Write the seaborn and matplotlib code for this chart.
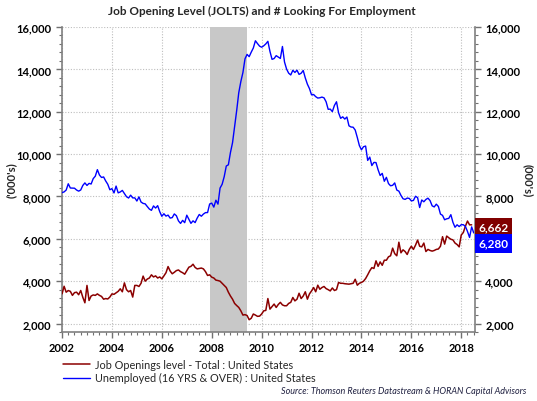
import numpy as np
import pandas as pd
import seaborn as sns
import matplotlib.pyplot as plt
from matplotlib.ticker import MultipleLocator, FuncFormatter
from matplotlib.transforms import blended_transform_factory

# monthly values, thousands, starting Jan 2002
start_year = 2002
job_openings = [
    3400, 3760, 3480, 3560, 3520, 3330, 3460, 3480, 3360, 3560, 3240, 2980,
    3800, 3090, 3300, 3350, 3330, 3400, 3330, 3280, 3150, 3180, 3160, 3250,
    3400, 3380, 3450, 3520, 3640, 3500, 3920, 3600, 3500, 3560, 3250, 3800,
    3800, 3750, 3900, 4240, 4000, 4100, 4150, 4300, 4200, 4250, 4150, 4200,
    4110, 4250, 4400, 4690, 4480, 4350, 4420, 4500, 4530, 4450, 4400, 4330,
    4500, 4660, 4700, 4800, 4650, 4580, 4600, 4620, 4580, 4450, 4270, 4300,
    4190, 4150, 4050, 4030, 4000, 3900, 3800, 3700, 3480, 3300, 3150, 2950,
    2850, 2760, 2600, 2400, 2420, 2380, 2180, 2250, 2450, 2400, 2340, 2350,
    2450, 2600, 2620, 3180, 2680, 2800, 2920, 2760, 2900, 3000, 2880, 2840,
    2840, 2950, 3000, 3230, 3070, 3150, 3430, 3180, 3300, 3500, 3150, 3400,
    3540, 3700, 3500, 3810, 3620, 3700, 3750, 3650, 3600, 3540, 3680, 3560,
    3600, 3940, 3900, 3900, 3880, 3870, 3860, 3880, 3900, 4090, 3810, 3900,
    3940, 4000, 4125, 4300, 4490, 4640, 4600, 4960, 4700, 4910, 4750, 4990,
    4990, 5150, 5200, 5560, 5300, 5200, 5840, 5340, 5480, 5400, 5260, 5500,
    5650, 5500, 5700, 5940, 5650, 5620, 5800, 5400, 5500, 5450, 5420, 5450,
    5500, 5520, 5650, 6100, 5750, 6130, 6050, 5980, 5950, 5800, 5730, 5620,
    6180, 6300, 6600, 6840, 6660, 6662,
]
unemployed = [
    8182, 8215, 8304, 8599, 8399, 8393, 8390, 8304, 8251, 8307, 8520, 8640,
    8520, 8618, 8588, 8842, 8957, 9266, 9011, 8896, 8921, 8732, 8576, 8317,
    8370, 8167, 8491, 8170, 8212, 8286, 8136, 7990, 7927, 8061, 7932, 7934,
    7784, 7980, 7737, 7672, 7651, 7524, 7406, 7345, 7553, 7453, 7566, 7279,
    7064, 7184, 7072, 7120, 6980, 7001, 7175, 7091, 6847, 6727, 6872, 6762,
    7116, 6927, 6731, 6850, 6766, 6979, 7149, 7067, 7170, 7237, 7240, 7645,
    7685, 7497, 7822, 7637, 8395, 8575, 8937, 9438, 9494, 10074, 10538, 11286,
    12058, 12898, 13426, 13853, 14499, 14707, 14601, 14814, 15009, 15352, 15219, 15098,
    15046, 15113, 15202, 15325, 14849, 14474, 14512, 14648, 14579, 14516, 15081, 14348,
    14013, 13820, 13737, 13957, 13855, 13962, 13763, 13818, 13948, 13594, 13302, 13093,
    12797, 12813, 12713, 12646, 12660, 12692, 12656, 12471, 12115, 12124, 12005, 12298,
    12471, 11950, 11689, 11760, 11654, 11751, 11335, 11279, 11270, 11136, 10787, 10404,
    10202, 10349, 10380, 9702, 9859, 9460, 9608, 9599, 9262, 8990, 9090, 8717,
    8903, 8610, 8504, 8526, 8640, 8303, 8251, 8050, 7893, 7862, 7924, 7908,
    7791, 7813, 8009, 7947, 7476, 7834, 7749, 7859, 7920, 7804, 7559, 7506,
    7636, 7528, 7168, 7107, 6899, 6945, 6966, 7140, 6779, 6547, 6662, 6578,
    6667, 6666, 6585, 6346, 6065, 6564, 6280,
]
recession = (2007 + 11 / 12, 2009 + 5 / 12)  # Dec 2007 - Jun 2009
year_ticks = list(range(2002, 2019, 2))
value_ticks = list(range(2000, 16001, 2000))
hidden_right_tick = 6000  # sits under the end-value tags

label_red = "Job Openings level - Total : United States"
label_blue = "Unemployed (16 YRS & OVER) : United States"
title = "Job Opening Level (JOLTS) and # Looking For Employment"
source = "Source: Thomson Reuters Datastream & HORAN Capital Advisors"

RED = "#8B0000"
BLUE = "#0000FF"

df_red = pd.DataFrame({"t": start_year + np.arange(len(job_openings)) / 12, "v": job_openings})
df_blue = pd.DataFrame({"t": start_year + np.arange(len(unemployed)) / 12, "v": unemployed})

sns.set_theme(style="white")
plt.rcParams["font.family"] = ["Lato", "DejaVu Sans"]

fig = plt.figure(figsize=(5.37, 4.02), dpi=100)
ax = fig.add_axes([0.1155, 0.1716, 0.769, 0.7587])
ax2 = ax.twinx()

ax.axvspan(recession[0], recession[1], color="#C8C8C8", zorder=1, lw=0)
sns.lineplot(data=df_red, x="t", y="v", ax=ax, color=RED, lw=1.1, zorder=3, label=label_red)
sns.lineplot(data=df_blue, x="t", y="v", ax=ax, color=BLUE, lw=1.0, zorder=3, label=label_blue)
ax.get_legend().remove()

ylim = (1600, 16000)
ax.set_ylim(*ylim)
ax2.set_ylim(*ylim)
ax.set_yticks(value_ticks)
ax2.set_yticks(value_ticks)
ax.yaxis.set_major_formatter(FuncFormatter(lambda v, p: f"{int(v):,}"))
ax2.yaxis.set_major_formatter(
    FuncFormatter(lambda v, p: "" if v == hidden_right_tick else f"{int(v):,}"))
for a in (ax, ax2):
    a.yaxis.set_minor_locator(MultipleLocator(400))
    for s in a.spines.values():
        s.set_visible(False)
ax.set_xlim(2002, 2018.55)
ax.set_xticks(year_ticks)
ax.xaxis.set_minor_locator(MultipleLocator(0.25))
ax.set_xlabel("")
ax.set_ylabel("('000's)", fontsize=8, fontweight="bold", labelpad=0)
ax2.set_ylabel("(000's)", fontsize=8, fontweight="bold", rotation=270, labelpad=9)

ax.spines["left"].set_visible(True)
ax.spines["bottom"].set_visible(True)
ax2.spines["right"].set_visible(True)
for s in (ax.spines["left"], ax.spines["bottom"], ax2.spines["right"]):
    s.set_color("#808080")
    s.set_linewidth(1.2)

ax.set_axisbelow(True)
ax.grid(True, which="major", color="#BEBEBE", linestyle=(0, (1, 1.5)), lw=0.8)

tick_kw = dict(direction="out", colors="#707070", labelcolor="black", labelsize=8)
ax.tick_params(axis="both", which="major", length=4, width=1, left=True, bottom=True, **tick_kw)
ax.tick_params(axis="both", which="minor", length=2.5, width=0.8, left=True, bottom=True,
               direction="out", colors="#707070")
ax2.tick_params(axis="y", which="major", length=4, width=1, right=True, **tick_kw)
ax2.tick_params(axis="y", which="minor", length=2.5, width=0.8, right=True,
                direction="out", colors="#707070")
for lab in ax.get_xticklabels() + ax.get_yticklabels() + ax2.get_yticklabels():
    lab.set_fontweight("bold")
ax.tick_params(axis="x", pad=3)

fig.suptitle(title, x=0.487, y=0.985, fontsize=8.5, fontweight="bold")

# end-value tags on the right
trans = blended_transform_factory(ax2.transAxes, ax2.transData)
ax2.annotate(f"{job_openings[-1]:,}", xy=(1.0, job_openings[-1]), xycoords=trans,
             xytext=(2.5, -1.5), textcoords="offset points", ha="left", va="center",
             color="white", fontsize=8.5, fontweight="bold", annotation_clip=False,
             zorder=10, bbox=dict(boxstyle="square,pad=0.32", fc="#800000", ec="none"))
ax2.annotate(f"{unemployed[-1]:,}", xy=(1.0, unemployed[-1]), xycoords=trans,
             xytext=(2.5, -7.5), textcoords="offset points", ha="left", va="center",
             color="white", fontsize=8.5, fontweight="bold", annotation_clip=False,
             zorder=10, bbox=dict(boxstyle="square,pad=0.32", fc=BLUE, ec="none"))

handles, labels = ax.get_legend_handles_labels()
fig.legend(handles, labels, loc="upper left", bbox_to_anchor=(0.11, 0.115),
           frameon=False, fontsize=7.8, handlelength=2.5, handletextpad=0.45,
           labelspacing=0.2, borderaxespad=0)

fig.text(0.98, 0.015, source, ha="right", va="bottom", fontsize=6.5,
         style="italic", color="#1F2040")

fig.savefig("out.png", dpi=100)
